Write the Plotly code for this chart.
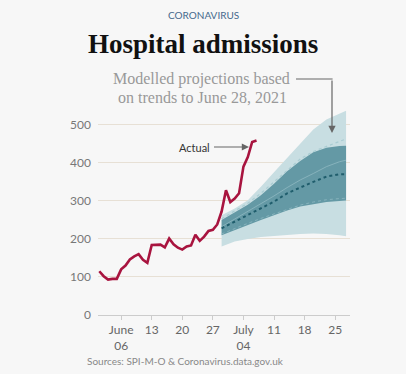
import plotly.graph_objects as go
import pandas as pd

# ---- data ----
actual_dates = [d.strftime("%Y-%m-%d") for d in pd.date_range("2021-06-01", "2021-07-07", freq="D")]
actual_values = [115, 102, 93, 95, 95, 120, 130, 146, 154, 160, 145, 137,
                 184, 184, 185, 178, 201, 186, 177, 172, 180, 183, 211, 195,
                 206, 221, 224, 238, 272, 328, 297, 306, 320, 390, 415, 455, 459]

proj_dates = ["2021-06-29", "2021-07-02", "2021-07-05", "2021-07-08", "2021-07-11",
              "2021-07-14", "2021-07-17", "2021-07-20", "2021-07-23", "2021-07-26",
              "2021-07-27 12:00"]
outer_upper = [262, 280, 302, 337, 375, 412, 450, 488, 514, 530, 537]
outer_lower = [180, 193, 200, 205, 208, 211, 213, 214, 213, 210, 207]
inner_upper = [250, 270, 290, 315, 345, 378, 405, 428, 440, 444, 445]
inner_lower = [210, 224, 237, 250, 262, 275, 285, 292, 297, 300, 301]
median_proj = [228, 245, 262, 280, 298, 320, 336, 350, 364, 370, 370]
upper_scen = [253, 273, 294, 320, 350, 382, 410, 430, 444, 456, 463]
mid_scen = [232, 252, 272, 292, 313, 335, 355, 372, 390, 403, 407]
lower_scen = [213, 228, 241, 254, 266, 279, 289, 297, 303, 306, 307]

tick_vals = ["2021-06-06", "2021-06-13", "2021-06-20", "2021-06-27",
             "2021-07-04", "2021-07-11", "2021-07-18", "2021-07-25"]
tick_text = ["June<br>06", "13", "20", "27", "July<br>04", "11", "18", "25"]
y_ticks = [0, 100, 200, 300, 400, 500]

LIGHT = "#c8dee2"
DARK = "#6499a5"
BG = "#f7f7f7"
SANS = "Lato"

fig = go.Figure()

# outer band
fig.add_trace(go.Scatter(x=proj_dates, y=outer_lower, mode="lines",
                         line=dict(width=0, color=LIGHT), hoverinfo="skip", showlegend=False))
fig.add_trace(go.Scatter(x=proj_dates, y=outer_upper, mode="lines", fill="tonexty",
                         fillcolor=LIGHT, line=dict(width=0, color=LIGHT),
                         hoverinfo="skip", showlegend=False))
# inner band
fig.add_trace(go.Scatter(x=proj_dates, y=inner_lower, mode="lines",
                         line=dict(width=0, color=DARK), hoverinfo="skip", showlegend=False))
fig.add_trace(go.Scatter(x=proj_dates, y=inner_upper, mode="lines", fill="tonexty",
                         fillcolor=DARK, line=dict(width=0, color=DARK),
                         hoverinfo="skip", showlegend=False))
# scenario lines
fig.add_trace(go.Scatter(x=proj_dates, y=upper_scen, mode="lines",
                         line=dict(width=1.2, color="#a9ccd2", dash="dot"),
                         hoverinfo="skip", showlegend=False))
fig.add_trace(go.Scatter(x=proj_dates, y=mid_scen, mode="lines",
                         line=dict(width=0.8, color="#8fb9c1"),
                         hoverinfo="skip", showlegend=False))
fig.add_trace(go.Scatter(x=proj_dates, y=lower_scen, mode="lines",
                         line=dict(width=0.8, color="#8fb9c1", dash="dot"),
                         hoverinfo="skip", showlegend=False))
fig.add_trace(go.Scatter(x=proj_dates, y=median_proj, mode="lines",
                         line=dict(width=2, color="#1f5d6c", dash="dot"),
                         hoverinfo="skip", showlegend=False))
# actual
fig.add_trace(go.Scatter(x=actual_dates, y=actual_values, mode="lines",
                         line=dict(width=2.6, color="#a8143f"),
                         hoverinfo="skip", showlegend=False))

L, R, T, B = 98, 56, 102, 59
W, H = 406, 374
pw, ph = W - L - R, H - T - B


def px(x):
    return (x - L) / pw


def py(y):
    return (H - B - y) / ph


annotations = [
    dict(text="CORONAVIRUS", x=px(203), y=py(15), xref="paper", yref="paper",
         showarrow=False, xanchor="center", yanchor="middle",
         font=dict(family=SANS, size=10, color="#46698c")),
    dict(text="<b>Hospital admissions</b>", x=px(203), y=py(44), xref="paper", yref="paper",
         showarrow=False, xanchor="center", yanchor="middle",
         font=dict(family="Liberation Serif", size=27, color="#111111")),
    dict(text="Modelled projections based", x=px(201), y=py(79), xref="paper", yref="paper",
         showarrow=False, xanchor="center", yanchor="middle",
         font=dict(family="Liberation Serif", size=16, color="#999999")),
    dict(text="on trends to June 28, 2021", x=px(202), y=py(97), xref="paper", yref="paper",
         showarrow=False, xanchor="center", yanchor="middle",
         font=dict(family="Liberation Serif", size=16, color="#999999")),
    dict(text="", x=px(332), y=py(133), xref="paper", yref="paper",
         ax=0, ay=-54, axref="pixel", ayref="pixel", showarrow=True,
         arrowhead=2, arrowsize=1.2, arrowwidth=1.2, arrowcolor="#666666"),
    dict(text="Actual", x=px(249), y=py(147), xref="paper", yref="paper",
         ax=-55, ay=0, showarrow=True, arrowhead=2, arrowsize=1.2, arrowwidth=1.2,
         arrowcolor="#666666", standoff=0, startstandoff=3,
         font=dict(family=SANS, size=11, color="#333333")),
    dict(text="Sources: SPI-M-O & Coronavirus.data.gov.uk", x=px(85), y=py(361),
         xref="paper", yref="paper", showarrow=False, xanchor="left", yanchor="middle",
         font=dict(family=SANS, size=10, color="#888888")),
]

shapes = [
    dict(type="line", xref="paper", yref="paper", x0=px(296), x1=px(332.6),
         y0=py(79), y1=py(79), line=dict(color="#666666", width=1.2)),
]

fig.update_layout(
    width=W, height=H,
    margin=dict(l=L, r=R, t=T, b=B),
    paper_bgcolor=BG, plot_bgcolor=BG,
    annotations=annotations, shapes=shapes,
    showlegend=False,
    xaxis=dict(
        type="date", range=["2021-05-31 16:48", "2021-07-28 09:36"],
        tickmode="array", tickvals=tick_vals, ticktext=tick_text,
        showgrid=False, zeroline=False, showline=False,
        ticks="outside", ticklen=4, tickcolor="#cccccc", tickwidth=1,
        tickfont=dict(family=SANS, size=12, color="#666666"),
    ),
    yaxis=dict(
        range=[0, 560], tickmode="array", tickvals=y_ticks,
        showgrid=True, gridcolor="#e7e0d5", gridwidth=1,
        zeroline=True, zerolinecolor="#cccccc", zerolinewidth=1,
        showline=False, ticks="", ticklabelstandoff=6,
        tickfont=dict(family=SANS, size=12, color="#777777"),
    ),
)

fig.write_html(
    "out.html",
    config={"displayModeBar": False},
    post_script="document.body.style.margin='0';document.body.style.background='#f7f7f7';",
)
